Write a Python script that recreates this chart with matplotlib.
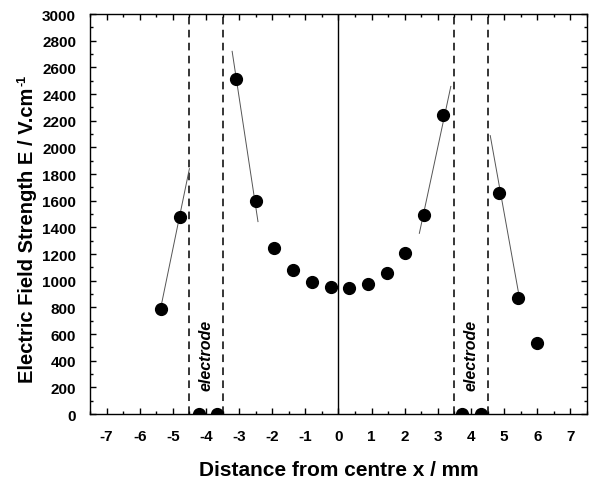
import matplotlib
matplotlib.use("Agg")
import matplotlib.pyplot as plt
from matplotlib.ticker import MultipleLocator

plt.rcParams['font.family'] = ['Liberation Sans', 'DejaVu Sans']
plt.rcParams['font.weight'] = 'bold'
plt.rcParams['axes.unicode_minus'] = False

# measured field strength across the cell (mm, V/cm)
x_pos = [-5.37, -4.79, -4.22, -3.67, -3.10, -2.49, -1.95, -1.38, -0.80, -0.23, 0.32,
         0.89, 1.46, 2.01, 2.59, 3.16, 3.73, 4.31, 4.85, 5.43, 6.00]
field = [790, 1480, 0, 0, 2510, 1600, 1245, 1080, 990, 950, 945,
         978, 1060, 1208, 1495, 2243, 0, 0, 1660, 870, 535]

# linear fits near the electrode edges
fit_x = [(-5.37, -4.5), (-3.21, -2.43), (2.44, 3.39), (4.58, 5.44)]
fit_y = [(790, 1840), (2720, 1443), (1355, 2457), (2088, 900)]

# electrode edges and label positions
edges = [-4.5, -3.5, 3.5, 4.5]
electrode_x = [-4.0, 4.0]
electrode_y = 450

fig = plt.figure(figsize=(5.89, 4.81), dpi=100)
ax = fig.add_axes([0.1528, 0.1372, 0.8438, 0.8316])

for fx, fy in zip(fit_x, fit_y):
    ax.plot(fx, fy, color='#555555', lw=0.7, zorder=2)

ax.plot(x_pos, field, 'o', color='black', ms=8.5, zorder=3)

for e in edges:
    ax.axvline(e, color='black', lw=1.1, ls=(0, (5, 3.5)), zorder=1)
ax.axvline(0, color='black', lw=1.0, zorder=1)

for ex in electrode_x:
    ax.text(ex, electrode_y, 'electrode', rotation=90, ha='center', va='center',
            fontsize=11.5, fontstyle='italic', fontweight='bold')

ax.set_xlim(-7.5, 7.5)
ax.set_ylim(0, 3000)
ax.xaxis.set_major_locator(MultipleLocator(1))
ax.xaxis.set_minor_locator(MultipleLocator(0.5))
ax.yaxis.set_major_locator(MultipleLocator(200))
ax.yaxis.set_minor_locator(MultipleLocator(100))
ax.tick_params(which='both', direction='in', top=True, right=True, width=1.0)
ax.tick_params(which='major', length=4.5, labelsize=11)
ax.tick_params(which='minor', length=2.5)
ax.tick_params(axis='x', pad=11)
ax.tick_params(axis='y', pad=10)
for sp in ax.spines.values():
    sp.set_linewidth(1.0)

ax.set_xlabel('Distance from centre x / mm', fontsize=15, fontweight='bold', labelpad=12)
ylab = ax.set_ylabel('Electric Field Strength E / V.cm', fontsize=14.5,
                     fontweight='bold', labelpad=4)
ylab.set_position((0, 0.45))

# small superscript after the unit
fig.canvas.draw()
bb = ylab.get_window_extent(renderer=fig.canvas.get_renderer())
fig.text((bb.x0 - 1) / fig.dpi / 5.89, (bb.y1 + 1) / fig.dpi / 4.81, '-1',
         rotation=90, fontsize=9, fontweight='bold', ha='left', va='bottom')

fig.savefig('out.png', dpi=100)
